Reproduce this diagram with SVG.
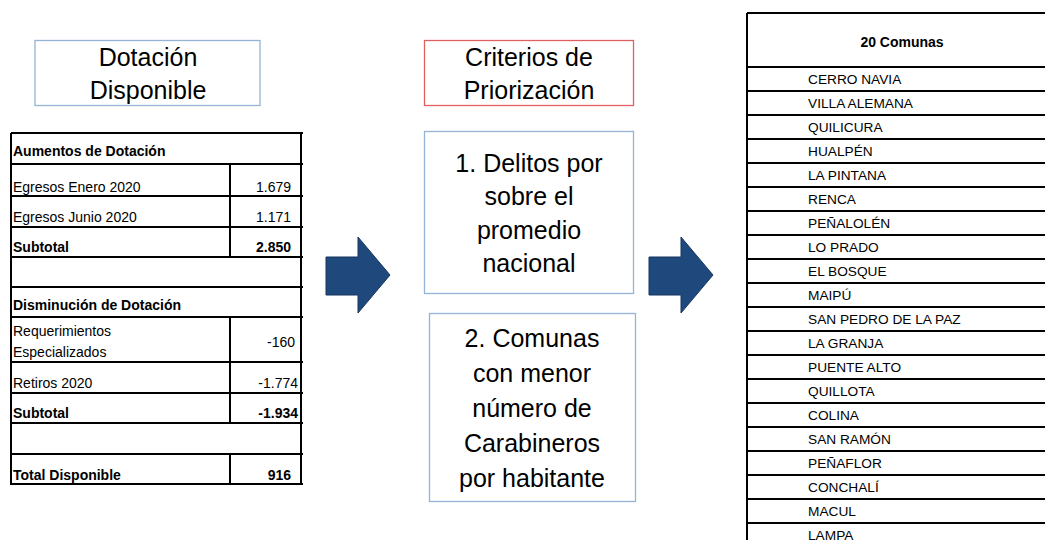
<svg xmlns="http://www.w3.org/2000/svg" width="1045" height="540" viewBox="0 0 1045 540">
<style>
text{font-family:"Liberation Sans",Arial,sans-serif;fill:#000}
.big{font-size:25px;text-anchor:middle}
.t{font-size:14px}
.b{font-weight:bold}
.r{text-anchor:end}
.c{font-size:13.7px}
.grid line{stroke:#000;stroke-width:2}
.box{fill:#fff;stroke:#95b3d7;stroke-width:1.3}
.arrow{fill:#1f497d;stroke:#17375e;stroke-width:1}
</style>
<rect width="1045" height="540" fill="#fff"/>

<g id="dotacion-title">
<rect class="box" x="35" y="40.5" width="225" height="65"/>
<text class="big" x="148" y="66">Dotación</text>
<text class="big" x="148" y="99">Disponible</text>
</g>

<g id="criterios-title">
<rect x="424.5" y="40.5" width="209" height="65" fill="#fff" stroke="#e06060" stroke-width="1.3"/>
<text class="big" x="529" y="66">Criterios de</text>
<text class="big" x="529" y="99">Priorización</text>
</g>

<g id="tabla-dotacion">
<g class="grid">
<line x1="11" y1="133" x2="303" y2="133"/>
<line x1="11" y1="164" x2="303" y2="164"/>
<line x1="11" y1="196" x2="303" y2="196"/>
<line x1="11" y1="227" x2="303" y2="227"/>
<line x1="11" y1="257" x2="303" y2="257"/>
<line x1="11" y1="287" x2="303" y2="287"/>
<line x1="11" y1="317" x2="303" y2="317"/>
<line x1="11" y1="362" x2="303" y2="362"/>
<line x1="11" y1="393" x2="303" y2="393"/>
<line x1="11" y1="423" x2="303" y2="423"/>
<line x1="11" y1="454" x2="303" y2="454"/>
<line x1="11" y1="484" x2="303" y2="484"/>
<line x1="11" y1="133" x2="11" y2="485"/>
<line x1="301" y1="133" x2="301" y2="485"/>
<line x1="230" y1="164" x2="230" y2="257"/>
<line x1="230" y1="317" x2="230" y2="423"/>
<line x1="230" y1="454" x2="230" y2="484"/>
</g>
<text class="t b" x="13" y="156">Aumentos de Dotación</text>
<text class="t" x="13" y="192">Egresos Enero 2020</text>
<text class="t r" x="291" y="192">1.679</text>
<text class="t" x="13" y="222">Egresos Junio 2020</text>
<text class="t r" x="291" y="222">1.171</text>
<text class="t b" x="13" y="252">Subtotal</text>
<text class="t b r" x="291" y="252">2.850</text>
<text class="t b" x="13" y="310">Disminución de Dotación</text>
<text class="t" x="13" y="336">Requerimientos</text>
<text class="t" x="13" y="357">Especializados</text>
<text class="t r" x="295" y="347">-160</text>
<text class="t" x="13" y="388">Retiros 2020</text>
<text class="t r" x="298" y="388">-1.774</text>
<text class="t b" x="13" y="418">Subtotal</text>
<text class="t b r" x="298" y="418">-1.934</text>
<text class="t b" x="13" y="480">Total Disponible</text>
<text class="t b r" x="291" y="480">916</text>
</g>

<g id="criterio-1">
<rect class="box" x="424.5" y="131.5" width="209" height="162"/>
<text class="big" x="529" y="171.5">1. Delitos por</text>
<text class="big" x="529" y="205">sobre el</text>
<text class="big" x="529" y="238.5">promedio</text>
<text class="big" x="529" y="272">nacional</text>
</g>

<g id="criterio-2">
<rect class="box" x="429.5" y="313.5" width="206" height="188"/>
<text class="big" x="532" y="347">2. Comunas</text>
<text class="big" x="532" y="382">con menor</text>
<text class="big" x="532" y="417">número de</text>
<text class="big" x="532" y="452">Carabineros</text>
<text class="big" x="532" y="487">por habitante</text>
</g>

<g id="connectors">
<polygon class="arrow" points="326,257 358,257 358,237 390,275 358,313 358,295 326,295"/>
<polygon class="arrow" points="649,257 681,257 681,237 713,275 681,313 681,295 649,295"/>
</g>

<g id="tabla-comunas">
<g class="grid">
<line x1="747" y1="13" x2="1045" y2="13"/>
<line x1="747" y1="13" x2="747" y2="540"/>
<line x1="747" y1="67" x2="1045" y2="67"/>
<line x1="747" y1="91" x2="1045" y2="91"/>
<line x1="747" y1="115" x2="1045" y2="115"/>
<line x1="747" y1="139" x2="1045" y2="139"/>
<line x1="747" y1="163" x2="1045" y2="163"/>
<line x1="747" y1="187" x2="1045" y2="187"/>
<line x1="747" y1="211" x2="1045" y2="211"/>
<line x1="747" y1="235" x2="1045" y2="235"/>
<line x1="747" y1="259" x2="1045" y2="259"/>
<line x1="747" y1="283" x2="1045" y2="283"/>
<line x1="747" y1="307" x2="1045" y2="307"/>
<line x1="747" y1="331" x2="1045" y2="331"/>
<line x1="747" y1="355" x2="1045" y2="355"/>
<line x1="747" y1="379" x2="1045" y2="379"/>
<line x1="747" y1="403" x2="1045" y2="403"/>
<line x1="747" y1="427" x2="1045" y2="427"/>
<line x1="747" y1="451" x2="1045" y2="451"/>
<line x1="747" y1="475" x2="1045" y2="475"/>
<line x1="747" y1="499" x2="1045" y2="499"/>
<line x1="747" y1="523" x2="1045" y2="523"/>
</g>
<text class="t b" x="902" y="47" text-anchor="middle">20 Comunas</text>
<text class="c" x="808" y="84">CERRO NAVIA</text>
<text class="c" x="808" y="108">VILLA ALEMANA</text>
<text class="c" x="808" y="132">QUILICURA</text>
<text class="c" x="808" y="156">HUALPÉN</text>
<text class="c" x="808" y="180">LA PINTANA</text>
<text class="c" x="808" y="204">RENCA</text>
<text class="c" x="808" y="228">PEÑALOLÉN</text>
<text class="c" x="808" y="252">LO PRADO</text>
<text class="c" x="808" y="276">EL BOSQUE</text>
<text class="c" x="808" y="300">MAIPÚ</text>
<text class="c" x="808" y="324">SAN PEDRO DE LA PAZ</text>
<text class="c" x="808" y="348">LA GRANJA</text>
<text class="c" x="808" y="372">PUENTE ALTO</text>
<text class="c" x="808" y="396">QUILLOTA</text>
<text class="c" x="808" y="420">COLINA</text>
<text class="c" x="808" y="444">SAN RAMÓN</text>
<text class="c" x="808" y="468">PEÑAFLOR</text>
<text class="c" x="808" y="492">CONCHALÍ</text>
<text class="c" x="808" y="516">MACUL</text>
<text class="c" x="808" y="540">LAMPA</text>
</g>
</svg>
